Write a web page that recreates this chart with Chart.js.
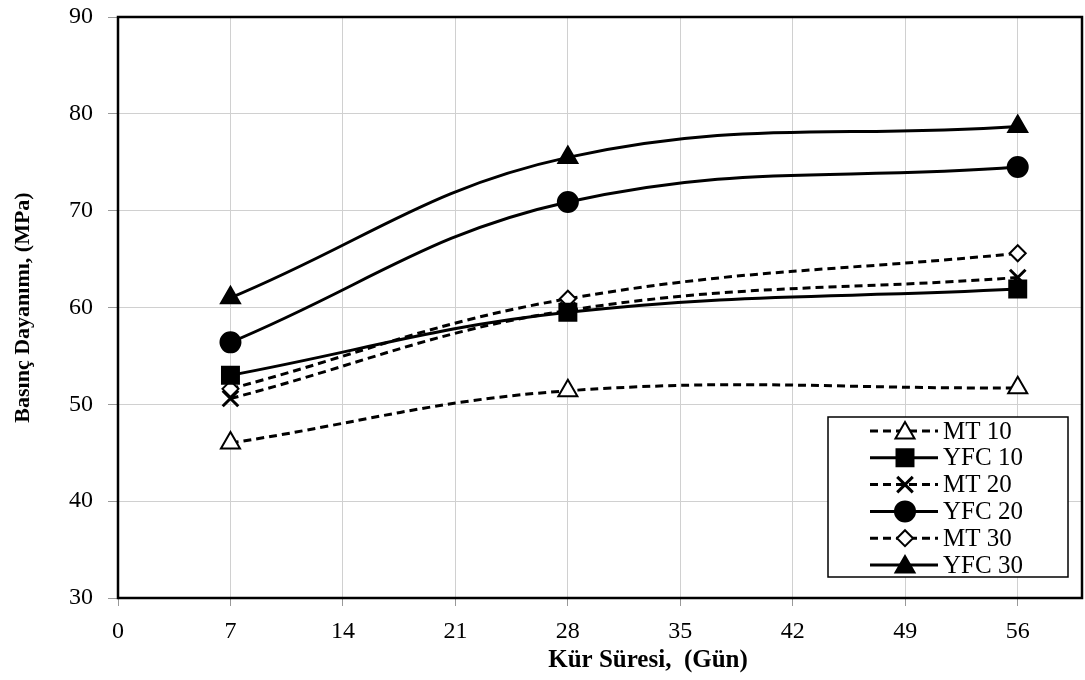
<!DOCTYPE html>
<html><head><meta charset="utf-8">
<script src="https://cdn.jsdelivr.net/npm/chart.js@4/dist/chart.umd.min.js"></script>
<style>html,body{margin:0;padding:0;background:#fff}#wrap{width:1085px;height:680px}</style>
</head><body><div id="wrap"><canvas id="c" width="1085" height="680"></canvas></div>
<script>
const days = [7, 28, 56];
const seriesNames = ["MT 10", "YFC 10", "MT 20", "YFC 20", "MT 30", "YFC 30"];
const mt10 = [46.0, 51.4, 51.7];
const yfc10 = [53.0, 59.5, 61.9];
const mt20 = [50.6, 59.7, 63.1];
const yfc20 = [56.4, 70.9, 74.5];
const mt30 = [51.6, 60.9, 65.6];
const yfc30 = [61.0, 75.5, 78.7];
const xTicks = [0, 7, 14, 21, 28, 35, 42, 49, 56];
const yTicks = [30, 40, 50, 60, 70, 80, 90];
const xTitle = 'Kür Süresi,  (Gün)';
const yTitle = 'Basınç Dayanımı, (MPa)';

const FONT = "'Liberation Serif', 'Times New Roman', serif";
const pts = v => days.map((d, i) => ({x: d, y: v[i]}));
const dashed = [8, 5];
function ds(label, data, style, radius, fill, dash) {
  return {label, data: pts(data), borderColor: '#000', backgroundColor: fill,
    pointStyle: style, pointRadius: radius, pointHoverRadius: radius,
    pointBorderColor: '#000', pointBackgroundColor: fill, pointBorderWidth: 2,
    borderWidth: 3, borderDash: dash, tension: 0.4, fill: false};
}
const datasets = [
  ds(seriesNames[0], mt10, 'triangle', 11, '#fff', dashed),
  ds(seriesNames[1], yfc10, 'rect', 12, '#000', []),
  ds(seriesNames[2], mt20, 'crossRot', 11, '#000', dashed),
  ds(seriesNames[3], yfc20, 'circle', 10, '#000', []),
  ds(seriesNames[4], mt30, 'rectRot', 8, '#fff', dashed),
  ds(seriesNames[5], yfc30, 'triangle', 11, '#000', []),
];
datasets[2].pointBorderWidth = 3;
const order = [4, 0, 2, 1, 3, 5];
order.forEach((idx, k) => datasets[idx].order = 6 - k);

const boxPlugin = {
  id: 'box',
  afterDatasetsDraw(chart) {
    const {ctx, chartArea: a} = chart;
    ctx.save();
    const lx = a.right - 254, ly = a.bottom - 181, lw = 240, lh = 160;
    ctx.fillStyle = '#fff';
    ctx.fillRect(lx, ly, lw, lh);
    ctx.strokeStyle = '#000'; ctx.lineWidth = 1.5;
    ctx.strokeRect(lx, ly, lw, lh);
    ctx.font = '25px ' + FONT;
    ctx.textBaseline = 'middle';
    chart.data.datasets.forEach((d, i) => {
      const y = ly + 14 + i * 26.8;
      ctx.beginPath();
      ctx.setLineDash(d.borderDash);
      ctx.lineWidth = 3; ctx.strokeStyle = '#000';
      ctx.moveTo(lx + 42, y); ctx.lineTo(lx + 110, y); ctx.stroke();
      ctx.setLineDash([]);
      ctx.fillStyle = d.pointBackgroundColor;
      ctx.strokeStyle = '#000';
      ctx.lineWidth = d.pointBorderWidth;
      Chart.helpers.drawPoint(ctx, {pointStyle: d.pointStyle, rotation: 0, radius: d.pointRadius, borderWidth: d.pointBorderWidth}, lx + 77, y + (d.pointStyle === 'triangle' ? 2 : 0));
      ctx.fillStyle = '#000';
      ctx.fillText(d.label, lx + 115, y + 1);
    });
    ctx.restore();
  },
  afterDraw(chart) {
    const {ctx, chartArea: a} = chart;
    ctx.save();
    ctx.strokeStyle = '#000'; ctx.lineWidth = 2.5;
    ctx.strokeRect(a.left, a.top, a.right - a.left, a.bottom - a.top);
    ctx.fillStyle = '#000';
    ctx.font = 'bold 25px ' + FONT;
    ctx.textAlign = 'center';
    ctx.textBaseline = 'middle';
    ctx.fillText(xTitle, (a.left + a.right) / 2 + 48, 661);
    ctx.restore();
  }
};

new Chart(document.getElementById('c'), {
  type: 'line',
  data: {datasets},
  plugins: [boxPlugin],
  options: {
    responsive: false, animation: false,
    layout: {autoPadding: false, padding: {left: 10, right: 3, top: 17, bottom: 4}},
    plugins: {legend: {display: false}, tooltip: {enabled: false}},
    scales: {
      x: {type: 'linear', min: 0, max: 60,
        afterBuildTicks: s => { s.ticks = xTicks.map(v => ({value: v})); },
        afterFit: s => { s.paddingLeft = 0; s.paddingRight = 0; s.height = 78; },
        grid: {color: '#d0d0d0', lineWidth: 1, tickLength: 8, tickColor: '#999', drawOnChartArea: true},
        border: {display: false},
        ticks: {color: '#000', font: {family: FONT, size: 24}, padding: 11, maxRotation: 0},
        title: {display: false}
      },
      y: {type: 'linear', min: 30, max: 90,
        afterBuildTicks: s => { s.ticks = yTicks.map(v => ({value: v})); },
        afterFit: s => { s.width = 108; s.paddingTop = 0; s.paddingBottom = 0; },
        grid: {color: '#d0d0d0', lineWidth: 1, tickLength: 10, tickColor: '#999'},
        border: {display: false},
        ticks: {color: '#000', font: {family: FONT, size: 24}, padding: 15},
        title: {display: true, text: yTitle, color: '#000', font: {family: FONT, size: 22, weight: 'bold'}, padding: {top: 0, bottom: 0}}
      }
    }
  }
});
</script></body></html>
